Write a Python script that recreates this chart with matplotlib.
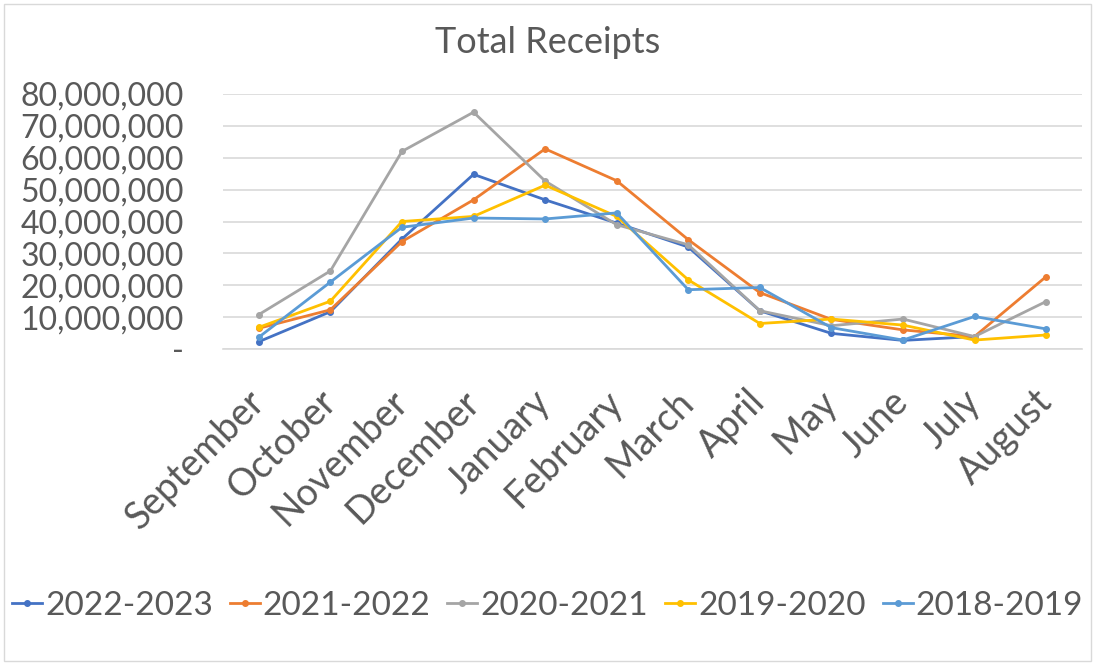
import matplotlib.pyplot as plt
from matplotlib.patches import Rectangle
from matplotlib.ticker import FuncFormatter

months = ["September", "October", "November", "December", "January", "February",
          "March", "April", "May", "June", "July", "August"]

fy_2022_2023 = [2.3e6, 11.7e6, 34.5e6, 54.8e6, 46.8e6, 39.5e6, 32.0e6, 12.0e6, 4.9e6, 2.7e6, 3.9e6]
fy_2021_2022 = [6.5e6, 12.3e6, 33.7e6, 46.8e6, 62.8e6, 52.8e6, 34.3e6, 17.7e6, 9.3e6, 6.0e6, 3.9e6, 22.7e6]
fy_2020_2021 = [10.8e6, 24.5e6, 62.0e6, 74.3e6, 52.7e6, 39.0e6, 32.7e6, 12.0e6, 7.3e6, 9.4e6, 3.9e6, 14.9e6]
fy_2019_2020 = [6.8e6, 15.0e6, 40.0e6, 41.6e6, 51.4e6, 41.6e6, 21.7e6, 8.0e6, 9.4e6, 7.5e6, 2.8e6, 4.4e6]
fy_2018_2019 = [3.7e6, 21.0e6, 38.2e6, 41.1e6, 40.8e6, 42.7e6, 18.6e6, 19.3e6, 6.7e6, 2.8e6, 10.2e6, 6.3e6]

series = [("2022-2023", fy_2022_2023, "#4472C4"),
          ("2021-2022", fy_2021_2022, "#ED7D31"),
          ("2020-2021", fy_2020_2021, "#A5A5A5"),
          ("2019-2020", fy_2019_2020, "#FFC000"),
          ("2018-2019", fy_2018_2019, "#5B9BD5")]

plt.rcParams['font.family'] = ['Lato', 'DejaVu Sans']
txt = "#595959"

fig = plt.figure(figsize=(10.95, 6.64), dpi=100)
ax = fig.add_axes([0.2037, 0.4744, 0.7843, 0.384])

for name, vals, col in series:
    ax.plot(range(len(vals)), vals, "o-", color=col, lw=2, ms=4, label=name)

ax.set_xlim(-0.5, 11.5)
ax.set_ylim(0, 80e6)
ax.set_yticks([i * 10e6 for i in range(9)])
ax.yaxis.set_major_formatter(FuncFormatter(lambda v, p: "-" if v == 0 else f"{int(v):,}"))
ax.set_xticks(range(len(months)))
ax.set_xticklabels(months, rotation=45, ha="right", va="center", rotation_mode="anchor")
ax.tick_params(length=0, colors=txt)
ax.tick_params(axis="y", labelsize=23, pad=28)
ax.tick_params(axis="x", labelsize=27, pad=34)
ax.grid(axis="y", color="#d9d9d9", lw=1.2)
ax.set_axisbelow(True)
for s in ["top", "right", "left"]:
    ax.spines[s].set_visible(False)
ax.spines["bottom"].set_color("#d9d9d9")
ax.spines["bottom"].set_linewidth(1.2)

fig.text(0.5, 0.936, "Total Receipts", ha="center", va="center", fontsize=26, color=txt)

leg = fig.legend(loc="center", bbox_to_anchor=(0.5, 0.088), ncol=5, frameon=False,
                 fontsize=24, handlelength=0.9, handletextpad=0.1, columnspacing=0.5,
                 labelcolor=txt)

fig.patches.append(Rectangle((0.004, 0.004), 0.992, 0.99, transform=fig.transFigure,
                             fill=False, edgecolor="#d9d9d9", lw=1))

plt.savefig("out.png")
